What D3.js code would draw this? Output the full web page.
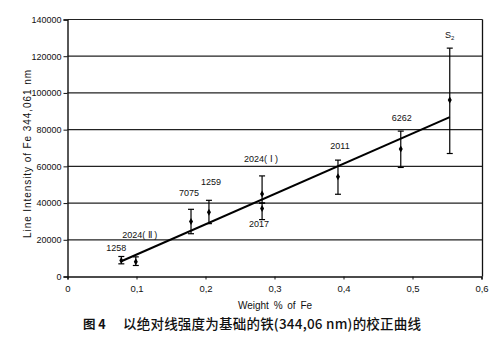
<!DOCTYPE html>
<html>
<head>
<meta charset="utf-8">
<script src="https://cdn.jsdelivr.net/npm/d3@7"></script>
<style>
  html, body { margin: 0; padding: 0; background: #fff; }
  svg { display: block; font-family: "Liberation Sans", Arial, sans-serif; }
</style>
</head>
<body>
<svg id="chart" width="498" height="352"></svg>
<script>
// ---- data ----
const sampleNames = ["1258", "2024( Ⅱ )", "7075", "1259", "2024( Ⅰ )", "2017", "2011", "6262", "S2"];
const weightFe    = [0.078, 0.099, 0.179, 0.205, 0.282, 0.282, 0.392, 0.483, 0.554];
const intensity   = [8700, 8000, 30000, 35000, 45000, 37000, 54300, 69400, 96200];
const errLow      = [6900, 6000, 23300, 28800, 40000, 31000, 44800, 59400, 67000];
const errHigh     = [10900, 10700, 36600, 41500, 54800, 40000, 63400, 79200, 124400];
const fitX        = [0.078, 0.554];
const fitY        = [8300, 86800];
const yTicks      = [0, 20000, 40000, 60000, 80000, 100000, 120000, 140000];
const xTicks      = [0, 0.1, 0.2, 0.3, 0.4, 0.5, 0.6];
const yTitle      = "Line Intensity of Fe 344,061 nm";
const xTitle      = "Weight % of Fe";
const captionNum  = "图 4";
const captionText = "以绝对线强度为基础的铁(344,06 nm)的校正曲线";

// ---- layout ----
const svg = d3.select("#chart");
const x = d3.scaleLinear().domain([0, 0.6]).range([67.5, 481.5]);
const y = d3.scaleLinear().domain([0, 140000]).range([276.5, 19.5]);

// gridlines
svg.append("g").selectAll("line").data(yTicks.filter(d => d > 0)).join("line")
  .attr("x1", x(0)).attr("x2", x(0.6) + 1)
  .attr("y1", d => y(d)).attr("y2", d => y(d))
  .attr("stroke", "#222").attr("stroke-width", 1.2);

// right frame
svg.append("line").attr("x1", x(0.6) + 1).attr("x2", x(0.6) + 1)
  .attr("y1", y(140000)).attr("y2", y(0))
  .attr("stroke", "#111").attr("stroke-width", 1.3);

// axes
const yAxis = d3.axisLeft(y).tickValues(yTicks).tickSize(4).tickPadding(2)
  .tickFormat(d3.format("d"));
const gy = svg.append("g").attr("transform", `translate(${x(0)},0)`).call(yAxis);
gy.select(".domain").attr("stroke", "#111").attr("stroke-width", 1.4);
gy.selectAll(".tick line").attr("stroke", "#111");
gy.selectAll("text").attr("font-size", 9).attr("fill", "#111")
  .attr("font-family", "'Liberation Sans', Arial, sans-serif");

const xAxis = d3.axisBottom(x).tickValues(xTicks).tickSize(3).tickPadding(6)
  .tickFormat(d => d === 0 ? "0" : d3.format(".1f")(d).replace(".", ","));
const gx = svg.append("g").attr("transform", `translate(0,${y(0)})`).call(xAxis);
gx.select(".domain").attr("stroke", "#111").attr("stroke-width", 1.4);
gx.selectAll(".tick line").attr("stroke", "#111");
gx.selectAll("text").attr("font-size", 9.5).attr("fill", "#111")
  .attr("font-family", "'Liberation Sans', Arial, sans-serif");

// regression line
svg.append("line")
  .attr("x1", x(fitX[0])).attr("y1", y(fitY[0]))
  .attr("x2", x(fitX[1])).attr("y2", y(fitY[1]))
  .attr("stroke", "#000").attr("stroke-width", 2);

// error bars
const pts = sampleNames.map((n, i) => ({ n, wx: weightFe[i], v: intensity[i], lo: errLow[i], hi: errHigh[i] }));
const eb = svg.append("g").attr("stroke", "#000").attr("stroke-width", 1.2);
eb.selectAll("line.v").data(pts).join("line").attr("class", "v")
  .attr("x1", d => x(d.wx)).attr("x2", d => x(d.wx))
  .attr("y1", d => y(d.lo)).attr("y2", d => y(d.hi));
eb.selectAll("line.t").data(pts).join("line").attr("class", "t")
  .attr("x1", d => x(d.wx) - 3).attr("x2", d => x(d.wx) + 3)
  .attr("y1", d => y(d.hi)).attr("y2", d => y(d.hi));
eb.selectAll("line.b").data(pts).join("line").attr("class", "b")
  .attr("x1", d => x(d.wx) - 3).attr("x2", d => x(d.wx) + 3)
  .attr("y1", d => y(d.lo)).attr("y2", d => y(d.lo));

// markers
svg.append("g").selectAll("path").data(pts).join("path")
  .attr("transform", d => `translate(${x(d.wx)},${y(d.v)})`)
  .attr("d", d3.symbol(d3.symbolDiamond, 14))
  .attr("fill", "#000");

// labels (offsets from each point)
const labelOffsets = {
  "1258": [-5, -10], "2024( Ⅱ )": [4, -24], "7075": [-2, -25], "1259": [2, -27],
  "2024( Ⅰ )": [-1, -32], "2017": [-3, 18], "2011": [2, -28], "6262": [1, -28], "S2": [0, -62]
};
const lab = svg.append("g").attr("font-size", 9).attr("fill", "#111").attr("text-anchor", "middle");
pts.forEach(d => {
  const o = labelOffsets[d.n];
  const t = lab.append("text").attr("x", x(d.wx) + o[0]).attr("y", y(d.v) + o[1]);
  if (d.n === "S2") {
    t.text("S");
    t.append("tspan").attr("font-size", 6).attr("dy", 2).text("2");
  } else {
    t.text(d.n);
  }
});

// axis titles
svg.append("text")
  .attr("transform", `translate(31,154) rotate(-90)`)
  .attr("text-anchor", "middle").attr("font-size", 10).attr("fill", "#111")
  .attr("textLength", 168).attr("lengthAdjust", "spacing")
  .text(yTitle);
svg.append("text").attr("x", 275).attr("y", 309)
  .attr("text-anchor", "middle").attr("font-size", 10).attr("fill", "#111")
  .attr("word-spacing", 2)
  .text(xTitle);

// caption
svg.append("text").attr("x", 83).attr("y", 329)
  .attr("font-family", "'Noto Sans CJK SC', sans-serif").attr("font-weight", 700)
  .attr("font-size", 12.5).attr("fill", "#111").text(captionNum);
svg.append("text").attr("x", 123).attr("y", 329)
  .attr("font-family", "'Noto Sans CJK SC', sans-serif").attr("font-weight", 500)
  .attr("font-size", 13.5).attr("fill", "#111").attr("textLength", 298)
  .text(captionText);
</script>
</body>
</html>
